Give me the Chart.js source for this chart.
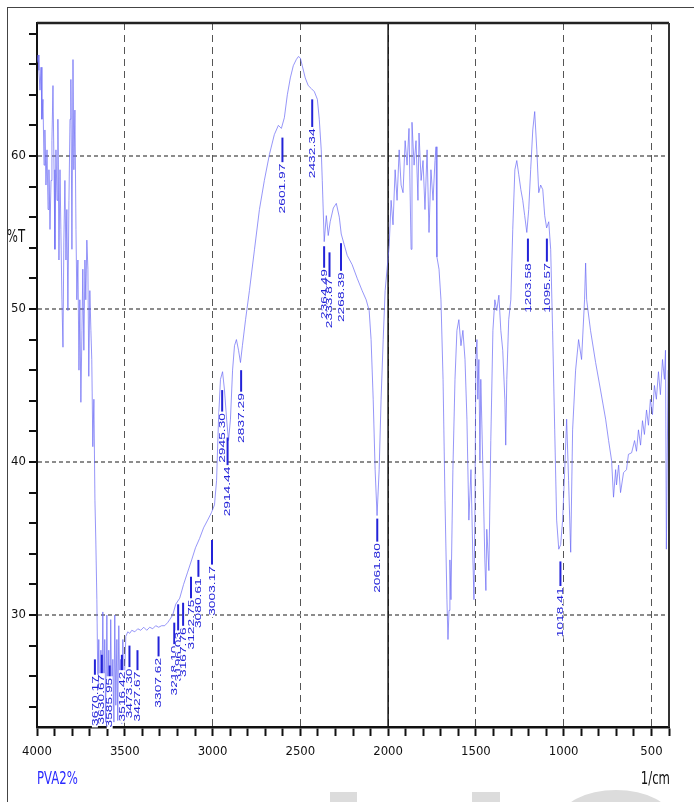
<!DOCTYPE html>
<html>
<head>
<meta charset="utf-8">
<script src="https://cdn.jsdelivr.net/npm/chart.js"></script>
<style>
body { margin: 0; background: #fff; overflow: hidden; }
#wrap { position: relative; width: 694px; height: 802px; overflow: hidden; }
#cadre { position: absolute; left: 7px; top: 7px; right: -2px; bottom: -2px; border-left: 1px solid #444; border-top: 1px solid #444; }
.wm { position: absolute; background: #dcdcdc; }
canvas { position: absolute; left: 0; top: 0; }
</style>
</head>
<body>
<div id="wrap">
  <div id="cadre"></div>
  <div class="wm" style="left:330px;top:792px;width:27px;height:14px"></div>
  <div class="wm" style="left:472px;top:792px;width:28px;height:14px"></div>
  <div class="wm" style="left:560px;top:790px;width:112px;height:60px;border-radius:50%"></div>
  <canvas id="graphique" width="694" height="802"></canvas>
</div>
<script>
// spectre IR PVA2% : nombre d'onde (1/cm) et transmittance (%T)
const wavenumber = [
    4000, 3994, 3989, 3983, 3977, 3972, 3966, 3960, 3955, 3949,
    3943, 3937, 3932, 3926, 3920, 3915, 3909, 3903, 3898, 3892,
    3886, 3881, 3875, 3869, 3864, 3858, 3852, 3847, 3841, 3835,
    3830, 3824, 3818, 3812, 3807, 3801, 3795, 3790, 3784, 3778,
    3773, 3767, 3761, 3756, 3750, 3744, 3739, 3733, 3727, 3722,
    3716, 3710, 3705, 3699, 3693, 3688, 3682, 3676, 3670, 3665,
    3659, 3653, 3648, 3642, 3636, 3631, 3625, 3619, 3614, 3608,
    3602, 3597, 3591, 3585, 3580, 3574, 3568, 3562, 3557, 3551,
    3545, 3540, 3534, 3528, 3523, 3517, 3511, 3506, 3494, 3483,
    3472, 3460, 3443, 3426, 3409, 3392, 3375, 3358, 3341, 3324,
    3307, 3290, 3273, 3256, 3244, 3227, 3210, 3187, 3165, 3142,
    3119, 3097, 3074, 3051, 3028, 3006, 2989, 2977, 2966, 2955,
    2943, 2932, 2920, 2909, 2898, 2886, 2875, 2864, 2852, 2841,
    2830, 2812, 2790, 2761, 2733, 2705, 2676, 2648, 2625, 2608,
    2591, 2574, 2557, 2540, 2523, 2511, 2500, 2489, 2472, 2455,
    2437, 2420, 2403, 2392, 2381, 2375, 2364, 2352, 2341, 2330,
    2312, 2295, 2278, 2267, 2250, 2233, 2205, 2176, 2148, 2125,
    2108, 2097, 2085, 2074, 2063, 2051, 2040, 2028, 2017, 2006,
    1994, 1983, 1972, 1960, 1949, 1937, 1926, 1915, 1903, 1892,
    1881, 1869, 1864, 1852, 1841, 1830, 1824, 1812, 1801, 1790,
    1778, 1767, 1756, 1744, 1733, 1727, 1722, 1710, 1699, 1687,
    1676, 1665, 1659, 1653, 1648, 1642, 1631, 1619, 1608, 1597,
    1585, 1574, 1562, 1551, 1540, 1528, 1517, 1511, 1506, 1500,
    1494, 1489, 1483, 1477, 1472, 1460, 1449, 1443, 1438, 1426,
    1415, 1403, 1392, 1381, 1369, 1358, 1347, 1335, 1330, 1324,
    1313, 1301, 1290, 1278, 1267, 1256, 1244, 1233, 1222, 1210,
    1199, 1188, 1176, 1165, 1153, 1142, 1131, 1119, 1108, 1097,
    1085, 1074, 1063, 1051, 1040, 1028, 1017, 1006, 994, 983,
    972, 960, 949, 932, 915, 898, 881, 875, 869, 847,
    818, 790, 761, 744, 727, 716, 704, 699, 687, 676,
    659, 642, 631, 613, 596, 585, 574, 562, 551, 540,
    528, 517, 506, 494, 483, 472, 460, 449, 437, 426,
    420, 415, 405
];

const transmittance = [
    66.1, 66.6, 65.6, 64.3, 65.8, 62.4, 63.7, 59.4, 61.7, 58.1,
    60.4, 56.5, 59.1, 55.2, 58.4, 61.0, 64.6, 59.1, 53.9, 60.4,
    57.1, 62.4, 53.2, 59.1, 55.2, 50.6, 47.5, 54.5, 58.4, 53.2,
    56.5, 49.9, 57.1, 62.4, 65.0, 53.9, 66.3, 59.1, 63.0, 55.2,
    50.6, 53.2, 46.0, 50.6, 43.9, 48.6, 52.6, 47.3, 53.2, 50.6,
    54.5, 52.6, 45.6, 51.2, 48.6, 46.7, 41.0, 44.1, 37.5, 34.9,
    31.0, 25.1, 28.4, 23.1, 27.7, 24.1, 30.2, 23.5, 28.4, 23.0,
    30.0, 24.4, 27.7, 23.3, 29.7, 23.8, 27.1, 23.0, 30.0, 24.1,
    28.4, 23.1, 29.3, 24.4, 27.1, 22.9, 28.4, 24.4, 28.6, 28.9,
    28.8, 29.0, 28.9, 29.1, 29.0, 29.2, 29.0, 29.2, 29.1, 29.3,
    29.2, 29.3, 29.3, 29.5, 29.7, 30.0, 30.7, 31.1, 32.0, 32.8,
    33.6, 34.4, 35.0, 35.7, 36.2, 36.7, 37.2, 38.8, 42.8, 45.4,
    45.9, 44.7, 42.8, 41.4, 42.8, 46.0, 47.6, 48.0, 47.3, 46.5,
    47.6, 49.3, 51.2, 53.9, 56.5, 58.4, 60.1, 61.4, 62.0, 61.8,
    62.5, 64.0, 65.1, 65.9, 66.3, 66.5, 66.4, 65.9, 65.1, 64.6,
    64.4, 64.2, 63.7, 62.4, 60.4, 58.4, 54.4, 56.1, 54.8, 55.7,
    56.6, 56.9, 56.0, 54.9, 54.2, 53.5, 52.9, 52.0, 51.2, 50.6,
    49.9, 48.0, 44.1, 39.5, 36.5, 39.5, 44.1, 48.0, 51.2, 52.6,
    54.1, 57.1, 55.5, 59.1, 57.1, 60.4, 58.1, 57.6, 61.0, 59.4,
    61.8, 53.9, 62.2, 59.4, 61.0, 57.1, 61.5, 58.4, 59.7, 56.5,
    60.4, 55.0, 59.1, 57.1, 59.7, 60.6, 53.4, 52.6, 50.6, 45.4,
    37.5, 31.0, 28.4, 30.3, 33.6, 31.0, 39.5, 45.4, 48.6, 49.3,
    47.6, 48.6, 46.7, 42.8, 36.2, 39.5, 33.6, 31.0, 36.2, 46.7,
    48.0, 44.1, 46.7, 40.1, 45.4, 39.5, 33.6, 31.6, 35.6, 32.9,
    41.4, 48.6, 50.6, 49.9, 50.9, 48.6, 47.3, 44.1, 41.1, 45.4,
    49.3, 50.6, 55.2, 59.1, 59.7, 58.8, 57.8, 57.1, 56.1, 55.0,
    56.5, 59.1, 61.7, 62.9, 60.4, 57.6, 58.1, 57.8, 56.1, 55.3,
    55.7, 53.9, 48.6, 42.1, 36.2, 34.3, 34.6, 36.2, 39.5, 42.8,
    38.8, 34.1, 42.1, 46.0, 48.0, 46.7, 50.6, 53.0, 50.6, 48.6,
    46.5, 44.7, 42.8, 41.4, 40.1, 37.7, 39.5, 38.5, 39.8, 38.0,
    39.3, 39.5, 40.5, 40.6, 41.4, 40.7, 42.1, 41.1, 42.7, 41.8,
    43.4, 42.4, 44.1, 43.1, 45.0, 44.1, 45.9, 44.4, 46.7, 45.4,
    47.3, 34.3, 46.0
];

// étiquettes des pics (le texte donne aussi la position)
const peakLabels = [
    '3670.17', '3630.67', '3585.95', '3516.42', '3473.30', '3427.67',
    '3307.62', '3218.10', '3196.03', '3167.76', '3122.75', '3080.61',
    '3003.17', '2945.30', '2914.44', '2837.29', '2601.97', '2432.34',
    '2364.49', '2333.87', '2268.39', '2061.80', '1203.58', '1095.57',
    '1018.41'
];
// %T du haut du trait et du début du texte
const peakMarkTop = [
    27.1, 27.4, 26.7, 27.4, 28.0, 27.7,
    28.6, 29.5, 30.7, 30.8, 32.5, 33.6,
    34.9, 44.7, 41.6, 46.0, 61.2, 63.7,
    54.1, 53.7, 54.3, 36.3, 54.6, 54.6,
    33.5
];
const peakTextTop = [
    26.0, 26.1, 25.9, 26.3, 26.5, 26.3,
    27.2, 28.0, 28.9, 29.2, 31.0, 32.4,
    33.2, 43.2, 39.7, 44.5, 59.5, 61.8,
    52.6, 52.0, 52.4, 34.7, 53.0, 53.0,
    31.8
];

const xLabelValues = [4000, 3500, 3000, 2500, 2000, 1500, 1000, 500];
const yLabelValues = [30, 40, 50, 60];

const axisFont = {family: "'Liberation Sans Narrow', 'DejaVu Sans Condensed', sans-serif", size: 13};
const bleu = '#2323d8';

function texteEtire(ctx, txt, x, y, align, couleur) {
    ctx.save();
    ctx.font = "13px 'Liberation Sans Narrow', 'DejaVu Sans Condensed', sans-serif";
    ctx.fillStyle = couleur;
    ctx.textAlign = align;
    ctx.textBaseline = 'alphabetic';
    ctx.translate(x, y);
    ctx.scale(1, 1.3);
    ctx.fillText(txt, 0, 0);
    ctx.restore();
}

const cadrePlugin = {
    id: 'cadre',
    beforeDatasetsDraw(chart) {
        const {ctx, chartArea, scales: {x}} = chart;
        // trait plein à 2000
        const px = x.getPixelForValue(2000);
        ctx.save();
        ctx.strokeStyle = '#111';
        ctx.lineWidth = 1.5;
        ctx.beginPath();
        ctx.moveTo(px, chartArea.top);
        ctx.lineTo(px, chartArea.bottom);
        ctx.stroke();
        ctx.restore();
    },
    afterDraw(chart) {
        const {ctx, chartArea} = chart;
        ctx.save();
        ctx.strokeStyle = '#222';
        ctx.lineWidth = 2.5;
        ctx.beginPath();
        ctx.moveTo(chartArea.left, chartArea.top);
        ctx.lineTo(chartArea.right, chartArea.top);
        ctx.stroke();
        ctx.strokeStyle = '#333';
        ctx.lineWidth = 2;
        ctx.beginPath();
        ctx.moveTo(chartArea.right, chartArea.top);
        ctx.lineTo(chartArea.right, chartArea.bottom);
        ctx.stroke();
        ctx.restore();

        texteEtire(ctx, '%T', 16, 242, 'center', '#111');
        texteEtire(ctx, 'PVA2%', chartArea.left, 784, 'left', '#2b2bff');
        texteEtire(ctx, '1/cm', chartArea.right + 1, 784, 'right', '#111');
    }
};

const picsPlugin = {
    id: 'pics',
    afterDatasetsDraw(chart) {
        const {ctx, scales: {x, y}} = chart;
        const etire = 1.45;
        ctx.save();
        ctx.font = "9.5px 'Liberation Sans', sans-serif";
        peakLabels.forEach(function (txt, i) {
            const px = x.getPixelForValue(parseFloat(txt));
            const yTop = y.getPixelForValue(peakMarkTop[i]);
            const yText = y.getPixelForValue(peakTextTop[i]);
            const w = ctx.measureText(txt).width;

            ctx.strokeStyle = bleu;
            ctx.lineWidth = 2;
            ctx.beginPath();
            ctx.moveTo(px, yTop);
            ctx.lineTo(px, yText);
            ctx.stroke();

            ctx.save();
            ctx.translate(px, yText + w * etire);
            ctx.rotate(-Math.PI / 2);
            ctx.scale(etire, 1);
            ctx.fillStyle = '#fff';
            ctx.fillRect(-1, -3, w + 2, 6);
            ctx.fillStyle = bleu;
            ctx.textAlign = 'left';
            ctx.textBaseline = 'middle';
            ctx.fillText(txt, 0, 0);
            ctx.restore();
        });
        ctx.restore();
    }
};

const points = wavenumber.map((w, i) => ({x: w, y: transmittance[i]}));

new Chart(document.getElementById('graphique'), {
    type: 'line',
    data: {
        datasets: [{
            data: points,
            borderColor: 'rgba(105,105,245,0.7)',
            borderWidth: 1,
            pointRadius: 0,
            tension: 0,
            fill: false
        }]
    },
    options: {
        responsive: false,
        animation: false,
        devicePixelRatio: 1,
        layout: {padding: {top: 23, right: 25, left: 0, bottom: 0}},
        plugins: {legend: {display: false}, tooltip: {enabled: false}},
        scales: {
            x: {
                type: 'linear',
                reverse: true,
                min: 400,
                max: 4000,
                afterFit(scale) { scale.height = 75; },
                ticks: {
                    stepSize: 100,
                    autoSkip: false,
                    maxRotation: 0,
                    padding: 8,
                    color: '#111',
                    font: axisFont,
                    callback: v => xLabelValues.includes(v) ? String(v) : ''
                },
                grid: {
                    color: c => (c.tick && c.tick.value % 500 === 0 && c.tick.value < 4000) ? '#555' : 'transparent',
                    lineWidth: 1,
                    tickColor: '#111',
                    tickLength: 9,
                    tickWidth: 2
                },
                border: {color: '#111', width: 2.5, dash: [7, 5]}
            },
            y: {
                min: 22.68,
                max: 68.69,
                afterFit(scale) { scale.width = 37; },
                ticks: {
                    stepSize: 2,
                    includeBounds: false,
                    autoSkip: false,
                    padding: 3,
                    color: '#111',
                    font: axisFont,
                    callback: v => yLabelValues.includes(v) ? String(v) : ''
                },
                grid: {
                    color: c => (c.tick && yLabelValues.includes(c.tick.value)) ? '#8c8c8c' : 'transparent',
                    lineWidth: 2,
                    tickColor: '#111',
                    tickLength: 8,
                    tickWidth: 2
                },
                border: {color: '#111', width: 2, dash: [4, 3]}
            }
        }
    },
    plugins: [cadrePlugin, picsPlugin]
});
</script>
</body>
</html>
